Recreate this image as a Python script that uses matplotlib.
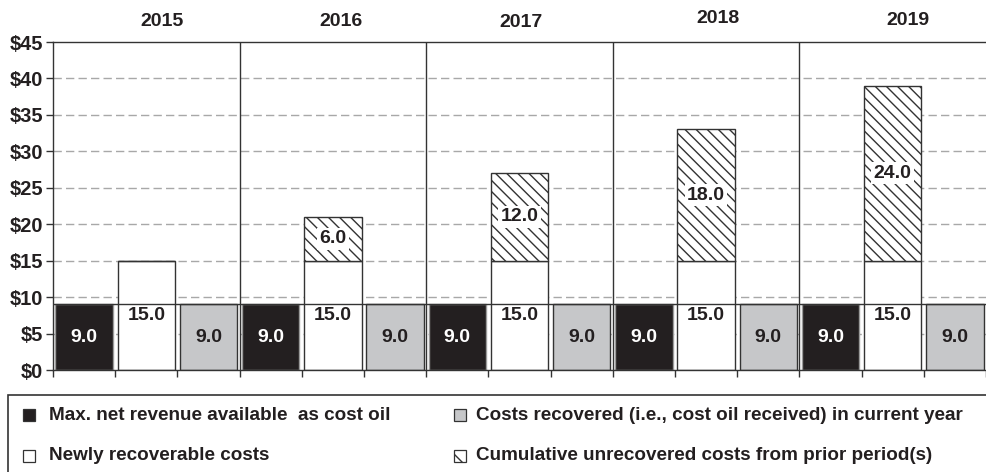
import matplotlib
matplotlib.use("Agg")
import matplotlib.pyplot as plt
from matplotlib.patches import Rectangle

plt.rcParams['font.family'] = ['Liberation Sans', 'DejaVu Sans']
plt.rcParams['font.weight'] = 'bold'
plt.rcParams['hatch.linewidth'] = 1.0

# ---- data ----
years = ['2015', '2016', '2017', '2018', '2019']
max_net_revenue = [9.0, 9.0, 9.0, 9.0, 9.0]
newly_recoverable = [15.0, 15.0, 15.0, 15.0, 15.0]
unrecovered_prior = [0.0, 6.0, 12.0, 18.0, 24.0]
costs_recovered = [9.0, 9.0, 9.0, 9.0, 9.0]
cost_oil_cap = 9.0
y_ticks = [0, 5, 10, 15, 20, 25, 30, 35, 40, 45]
y_tick_labels = ['$0', '$5', '$10', '$15', '$20', '$25', '$30', '$35', '$40', '$45']

legend_labels = [
    'Max. net revenue available  as cost oil',
    'Costs recovered (i.e., cost oil received) in current year',
    'Newly recoverable costs',
    'Cumulative unrecovered costs from prior period(s)',
]

# ---- styling ----
BLACK = '#231f20'
GRAY = '#c6c7c9'
EDGE = '#333333'
FS_TICK = 14.5
FS_YEAR = 14
FS_BAR = 14
FS_LEG = 13.6

W, H = 986, 472
fig = plt.figure(figsize=(W / 100, H / 100), dpi=100)
ax = fig.add_axes([53 / W, 102 / H, (W - 53) / W, 328 / H])

n = len(years)
width = 0.92
x_black = [3 * i for i in range(n)]
x_white = [3 * i + 1 for i in range(n)]
x_gray = [3 * i + 2 for i in range(n)]

ax.bar(x_black, max_net_revenue, width=width, color=BLACK, edgecolor='#9a9a9a',
       linewidth=1.0, zorder=2)
ax.bar(x_white, newly_recoverable, width=width, color='white', edgecolor=EDGE,
       linewidth=1.0, zorder=2)
ax.bar(x_white, unrecovered_prior, bottom=newly_recoverable, width=width,
       color='white', edgecolor=EDGE, hatch='\\\\\\', linewidth=1.0, zorder=2)
ax.bar(x_gray, costs_recovered, width=width, color=GRAY, edgecolor=EDGE,
       linewidth=1.0, zorder=2)

# cost-oil ceiling line across the whole plot
ax.axhline(cost_oil_cap, color=EDGE, linewidth=1.0, zorder=3)

# value labels
for i in range(n):
    ax.text(x_black[i], max_net_revenue[i] / 2, f'{max_net_revenue[i]:.1f}',
            ha='center', va='center', color='white', fontsize=FS_BAR,
            fontweight='bold', zorder=4)
    ax.text(x_white[i], newly_recoverable[i] / 2, f'{newly_recoverable[i]:.1f}',
            ha='center', va='center', color=BLACK, fontsize=FS_BAR,
            fontweight='bold', zorder=4)
    ax.text(x_gray[i], costs_recovered[i] / 2, f'{costs_recovered[i]:.1f}',
            ha='center', va='center', color=BLACK, fontsize=FS_BAR,
            fontweight='bold', zorder=4)
    if unrecovered_prior[i] > 0:
        ax.text(x_white[i], newly_recoverable[i] + unrecovered_prior[i] / 2,
                f'{unrecovered_prior[i]:.1f}', ha='center', va='center',
                color=BLACK, fontsize=FS_BAR, fontweight='bold', zorder=4,
                bbox=dict(boxstyle='square,pad=0.12', facecolor='white',
                          edgecolor='none'))

# year headers
year_dx = [0.25, 0.13, 0.02, 0.19, 0.24]
year_dy = [1.061, 1.061, 1.058, 1.073, 1.067]
for i, yr in enumerate(years):
    ax.text(3 * i + 1 + year_dx[i], year_dy[i], yr, transform=ax.get_xaxis_transform(),
            ha='center', va='center', fontsize=FS_YEAR, fontweight='bold', color=BLACK,
            clip_on=False)

# year separators
for i in range(1, n):
    ax.axvline(3 * i - 0.5, color=EDGE, linewidth=1.0, zorder=3)

# axes
ax.set_xlim(-0.5, -0.5 + (W - 53) / 62.5)
ax.set_ylim(0, 45)
ax.set_yticks(y_ticks)
ax.set_yticklabels(y_tick_labels, fontsize=FS_TICK, fontweight='bold', color=BLACK)
ax.set_xticks([k - 0.5 for k in range(3 * n + 1)])
ax.set_xticklabels([])
ax.tick_params(axis='both', direction='out', length=5, width=1.0, color=EDGE)
ax.tick_params(axis='y', pad=2)

for y in y_ticks[1:-1]:
    ax.axhline(y, color='#a8a8a8', linewidth=1.0, linestyle=(0, (6, 3)), zorder=0)

for side in ['left', 'top', 'bottom']:
    ax.spines[side].set_color(EDGE)
    ax.spines[side].set_linewidth(1.0)
ax.spines['right'].set_visible(False)

# legend panel
fig.patches.append(Rectangle((8 / W, -0.05), 1.0, (H - 395) / H + 0.05,
                             transform=fig.transFigure, facecolor='white',
                             edgecolor=EDGE, linewidth=1.2))
leg_styles = [
    dict(facecolor=BLACK, edgecolor=EDGE, hatch=None),
    dict(facecolor=GRAY, edgecolor=EDGE, hatch=None),
    dict(facecolor='white', edgecolor=EDGE, hatch=None),
    dict(facecolor='white', edgecolor=EDGE, hatch='\\\\'),
]
leg_marker_x = [23, 454, 23, 454]
leg_text_x = [49, 476, 49, 476]
leg_row_y = [415, 415, 456, 456]
for mx, tx, py, label, st in zip(leg_marker_x, leg_text_x, leg_row_y,
                                 legend_labels, leg_styles):
    sq = 12
    fig.patches.append(Rectangle((mx / W, (H - py - sq / 2) / H), sq / W, sq / H,
                                 transform=fig.transFigure, linewidth=0.9, **st))
    fig.text(tx / W, (H - py) / H, label, ha='left', va='center',
             fontsize=FS_LEG, fontweight='bold', color=BLACK)

fig.savefig('out.png', dpi=100)
